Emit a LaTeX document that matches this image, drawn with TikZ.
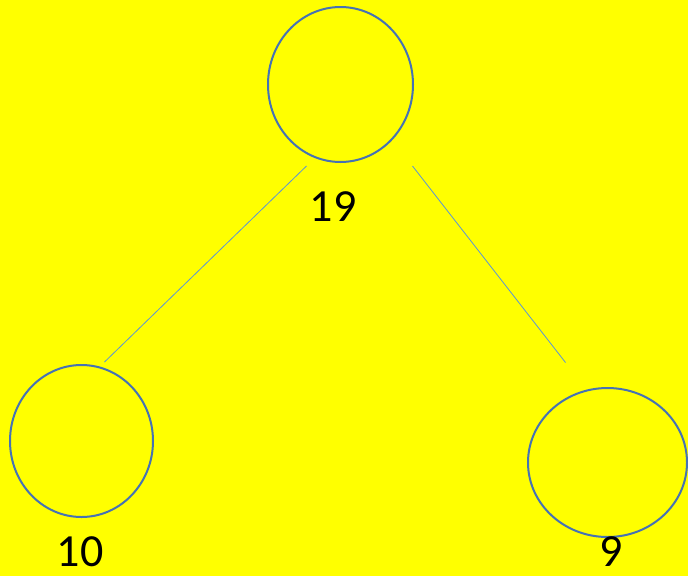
\documentclass[tikz,border=0pt]{standalone}
\usepackage{fontspec}
\setmainfont{Carlito}
\usepackage{tikz}
\usetikzlibrary{calc,shapes.geometric}
\definecolor{bgyellow}{RGB}{255,255,0}
\definecolor{ringblue}{RGB}{70,114,180}
\definecolor{edgeblue}{RGB}{91,148,214}

\begin{document}
\begin{tikzpicture}[x=1pt,y=-1pt,
    ring/.style={ellipse, draw=ringblue, line width=2pt, inner sep=0pt},
    weight/.style={font=\fontsize{46}{50}\selectfont, inner sep=0pt}]
    \fill[bgyellow] (0,0) rectangle (688,576);
    \useasboundingbox (0,0) rectangle (688,576);

    \node[ring, minimum width=145pt, minimum height=155pt] (Root) at (340.5,84.5) {};
    \node[ring, minimum width=143pt, minimum height=152pt] (Left) at (81.5,441) {};
    \node[ring, minimum width=159pt, minimum height=149pt] (Right) at (607.5,462.5) {};

    \node[weight] (RootW) at (333,207) {19};
    \node[weight] (LeftW) at (80,552) {10};
    \node[weight] (RightW) at (611,552) {9};

    \coordinate (RootL) at (306.5,166);
    \coordinate (RootR) at (412.5,166);
    \coordinate (LeftT) at (104.5,362);
    \coordinate (RightT) at (565.5,362.5);

    \draw[edgeblue, line width=0.8pt] (RootL) -- (LeftT);
    \draw[edgeblue, line width=0.8pt] (RootR) -- (RightT);
\end{tikzpicture}
\end{document}
